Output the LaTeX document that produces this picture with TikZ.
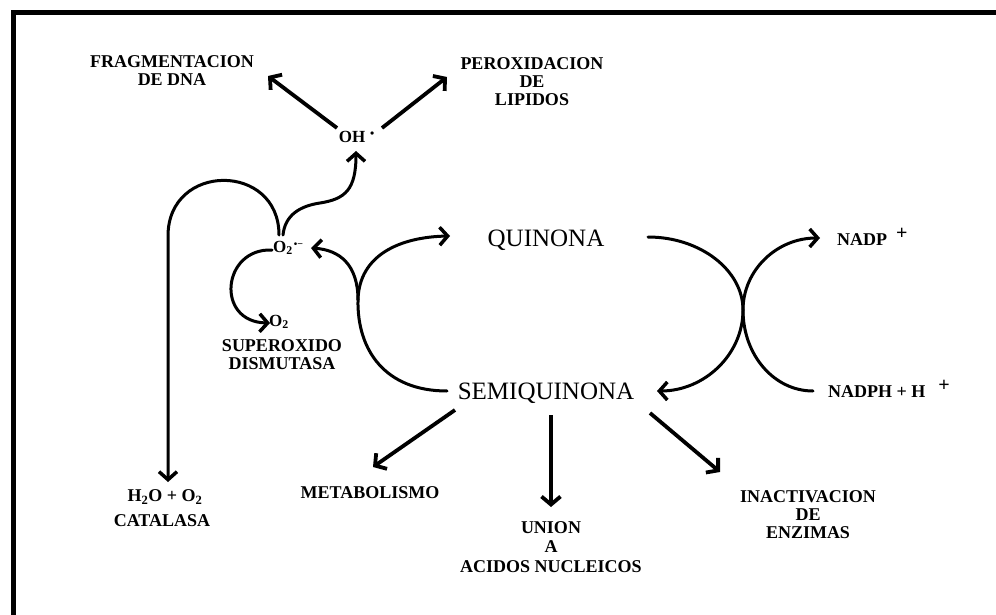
\documentclass[tikz,border=0pt]{standalone}
\usepackage{fontspec}
\setmainfont{Liberation Serif}
\usetikzlibrary{arrows.meta}
\begin{document}
\begin{tikzpicture}[x=1pt,y=-1pt,
  lbl/.style={font=\bfseries\fontsize{18}{18}\selectfont,align=center,inner sep=0pt},
  sml/.style={font=\bfseries\fontsize{17}{17}\selectfont,inner sep=0pt},
  big/.style={font=\fontsize{25}{25}\selectfont,inner sep=0pt,anchor=base},
  conn/.style={line width=3pt,line cap=round,-{Straight Barb[length=8pt,width=18pt,line width=3.5pt]}},
  dconn/.style={line width=3.8pt,-{Straight Barb[length=8pt,width=19pt,line width=3.8pt]}},
  frame/.style={line width=5pt,line join=miter}]
\useasboundingbox (0,0) rectangle (996,615);
\draw[frame] (13,615) -- (13,13) -- (996,13);

% nodes
\node[big] (quin) at (546,246) {QUINONA};
\node[big] (semi) at (546,399) {SEMIQUINONA};
\node[lbl] (frag) at (172,71) {FRAGMENTACION\\DE DNA};
\node[lbl] (perox) at (532,82) {PEROXIDACION\\DE\\LIPIDOS};
\node[lbl,font=\bfseries\fontsize{17}{17}\selectfont] (oh) at (352,137) {OH\rlap{\hspace{5pt}\raisebox{5pt}{\fontsize{12}{12}\selectfont •}}};
\node[sml] (o2r) at (283,248) {O\textsubscript{2}\rlap{\kern1pt\raisebox{5pt}{\fontsize{10}{10}\selectfont •−}}};
\node[sml] (o2) at (279,322) {O\textsubscript{2}};
\node[lbl] (sod) at (282,355) {SUPEROXIDO\\DISMUTASA};
\node[lbl] (h2o) at (165,497) {H\textsubscript{2}O + O\textsubscript{2}};
\node[lbl] (cat) at (162,521) {CATALASA};
\node[lbl] (metab) at (370,493) {METABOLISMO};
\node[lbl,font=\bfseries\fontsize{18}{19.5}\selectfont] (union) at (551,547) {UNION\\A\\ACIDOS NUCLEICOS};
\node[lbl] (inact) at (808,515) {INACTIVACION\\DE\\ENZIMAS};
\node[lbl,anchor=base west] (nadp) at (837,245) {NADP\hspace{9pt}\raisebox{6pt}{\fontsize{20}{20}\selectfont +}};
\node[lbl,anchor=base west] (nadph) at (828,397) {NADPH + H\hspace{13pt}\raisebox{6pt}{\fontsize{20}{20}\selectfont +}};

% OH radical products
\draw[dconn] ([shift={(-15,-9)}]oh.center) -- ([shift={(96,5)}]frag.center);
\draw[dconn] ([shift={(30,-9)}]oh.center) -- ([shift={(-85,-5)}]perox.center);

% superoxide -> OH
\draw[conn] ([shift={(0,-13)}]o2r.center) .. controls (285,215) and (300,206) .. (320,203)
  .. controls (345,199) and (356,190) .. ([shift={(4,14)}]oh.center);

% catalase loop
\draw[conn] ([shift={(-4,-13)}]o2r.center) .. controls (279,162) and (168,162) .. (168,236)
  -- ([shift={(3,-15)}]h2o.center);

% superoxide dismutase
\draw[conn] ([shift={(-11,2)}]o2r.center) .. controls (222,248) and (215,322) .. ([shift={(-9,1)}]o2.center);

% semiquinona -> quinona (left arc)
\draw[conn] ([shift={(-99,-8)}]semi.base) .. controls (385,391) and (357,350) .. (358,300) coordinate (jl)
  .. controls (359,255) and (400,237) .. ([shift={(-96,-10)}]quin.base);
\draw[conn] (jl) .. controls (358,265) and (340,250) .. ([shift={(28,0)}]o2r.center);

% quinona -> semiquinona (right arc)
\draw[conn] ([shift={(102,-9)}]quin.base) .. controls (700,237) and (743,270) .. (743,310)
  .. controls (743,355) and (704,391) .. ([shift={(111,-8)}]semi.base);

% NADPH -> NADP+
\draw[conn] ([shift={(-15,-6)}]nadph.base west) .. controls (774,391) and (743,355) .. (743,310)
  .. controls (743,270) and (777,238) .. ([shift={(-17,-7)}]nadp.base west);

% semiquinona fates
\draw[dconn] ([shift={(-91,11)}]semi.base) -- ([shift={(3,-26)}]metab.center);
\draw[dconn] ([shift={(5,16)}]semi.base) -- ([shift={(0,-40)}]union.center);
\draw[dconn] ([shift={(104,14)}]semi.base) -- ([shift={(-88,-43)}]inact.center);
\end{tikzpicture}
\end{document}
